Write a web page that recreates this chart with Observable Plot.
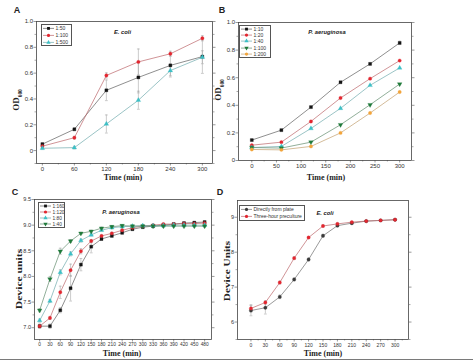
<!DOCTYPE html>
<html><head><meta charset="utf-8">
<script src="https://cdn.jsdelivr.net/npm/d3@7"></script>
<script src="https://cdn.jsdelivr.net/npm/@observablehq/plot@0.6"></script>
<style>
body{margin:0;background:#fff;}
#fig{position:relative;width:473px;height:362px;overflow:hidden;background:#fff;font-family:"Liberation Sans",Arial,sans-serif;}
#fig svg{position:absolute;}
.t{position:absolute;white-space:nowrap;line-height:1;color:#222;}
.leg{position:absolute;border:0.7px solid #555;background:#fff;color:#333;box-sizing:border-box;padding:0 1px;font-family:"Liberation Sans",Arial,sans-serif;}
.leg .row{display:flex;align-items:center;}
</style></head><body><div id="fig"></div>
<script>
// ---------- Panel A data (E. coli, OD600) ----------
const timeA = [0, 60, 120, 180, 240, 300];
const seriesA = ["1:50", "1:100", "1:500"];
const odA_50  = [0.05, 0.165, 0.467, 0.567, 0.66, 0.728];
const odA_100 = [0.034, 0.10, 0.582, 0.687, 0.75, 0.87];
const odA_500 = [0.018, 0.023, 0.206, 0.39, 0.62, 0.723];
const errA_50  = [0.01, 0.01, 0.08, 0.12, 0.08, 0.13];
const errA_100 = [0.01, 0.01, 0.02, 0.10, 0.02, 0.02];
const errA_500 = [0.01, 0.01, 0.07, 0.07, 0.05, 0.05];
const xTicksA = [0, 60, 120, 180, 240, 300];
const yTicksA = [0, 0.2, 0.4, 0.6, 0.8, 1.0];

// ---------- Panel B data (P. aeruginosa, OD600) ----------
const timeB = [0, 60, 120, 180, 240, 300];
const seriesB = ["1:10", "1:20", "1:40", "1:100", "1:200"];
const odB_10  = [0.148, 0.22, 0.387, 0.567, 0.70, 0.852];
const odB_20  = [0.111, 0.133, 0.283, 0.453, 0.593, 0.724];
const odB_40  = [0.094, 0.102, 0.232, 0.378, 0.545, 0.671];
const odB_100 = [0.094, 0.09, 0.133, 0.259, 0.404, 0.554];
const odB_200 = [0.08, 0.077, 0.102, 0.20, 0.344, 0.496];
const errB_10 = [0.005, 0.005, 0.005, 0.005, 0.008, 0.012];
const xTicksB = [0, 50, 100, 150, 200, 250, 300];
const yTicksB = [0, 0.2, 0.4, 0.6, 0.8, 1.0];

// ---------- Panel C data (P. aeruginosa, device units) ----------
const timeC = [0, 30, 60, 90, 120, 150, 180, 210, 240, 270, 300, 330, 360, 390, 420, 450, 480];
const seriesC = ["1:160", "1:120", "1:80", "1:40"];
const duC_160 = [7.03, 7.03, 7.34, 7.77, 8.23, 8.58, 8.73, 8.79, 8.85, 8.92, 8.96, 8.98, 9.00, 9.02, 9.04, 9.05, 9.06];
const duC_120 = [7.03, 7.19, 7.69, 8.12, 8.49, 8.69, 8.79, 8.84, 8.90, 8.95, 8.98, 9.00, 9.02, 9.02, 9.03, 9.03, 9.04];
const duC_80  = [7.14, 7.52, 8.08, 8.44, 8.70, 8.81, 8.90, 8.95, 8.97, 8.98, 8.99, 8.99, 8.99, 9.00, 9.00, 9.00, 9.00];
const duC_40  = [7.34, 7.95, 8.49, 8.69, 8.84, 8.88, 8.94, 8.97, 8.99, 8.98, 8.98, 8.98, 8.98, 8.98, 8.98, 8.98, 8.98];
const errC_160 = [0.03, 0.04, 0.05, 0.25, 0.12, 0.12, 0.03, 0.02, 0.02, 0.02, 0.02, 0.02, 0.02, 0.02, 0.02, 0.02, 0.02];
const errC_120 = [0.04, 0.03, 0.12, 0.12, 0.05, 0.03, 0.02, 0.02, 0.02, 0.02, 0.02, 0.02, 0.02, 0.02, 0.02, 0.02, 0.02];
const errC_80  = [0.03, 0.03, 0.05, 0.04, 0.03, 0.02, 0.02, 0.02, 0.02, 0.02, 0.02, 0.02, 0.02, 0.02, 0.02, 0.02, 0.02];
const errC_40  = [0.03, 0.05, 0.06, 0.03, 0.02, 0.02, 0.02, 0.02, 0.02, 0.02, 0.02, 0.02, 0.02, 0.02, 0.02, 0.02, 0.02];
const xTicksC = [0, 30, 60, 90, 120, 150, 180, 210, 240, 270, 300, 330, 360, 390, 420, 450, 480];
const yTicksC = [7.0, 7.5, 8.0, 8.5, 9.0, 9.5];

// ---------- Panel D data (E. coli, device units) ----------
const timeD = [0, 30, 60, 90, 120, 150, 180, 210, 240, 270, 300];
const seriesD = ["Directly from plate", "Three-hour preculture"];
const duD_plate = [6.33, 6.41, 6.72, 7.22, 7.79, 8.47, 8.76, 8.83, 8.89, 8.91, 8.93];
const duD_pre   = [6.39, 6.56, 7.13, 7.83, 8.42, 8.75, 8.81, 8.86, 8.89, 8.91, 8.93];
const errD_plate = [0.15, 0.18, 0.05, 0.04, 0.04, 0.04, 0.03, 0.03, 0.02, 0.02, 0.02];
const errD_pre   = [0.10, 0.05, 0.04, 0.04, 0.03, 0.03, 0.03, 0.02, 0.02, 0.02, 0.02];
const xTicksD = [0, 30, 60, 90, 120, 150, 180, 210, 240, 270, 300];
const yTicksD = [6, 7, 8, 9];

// ---------- styling ----------
const BLACK = "#141414", RED = "#e3262f", TEAL = "#3cc0c6", GREEN = "#1f7a3a", ORANGE = "#f2a43a", DGRAY = "#3a3a3a";
const sqrt3 = Math.sqrt(3);
const triDown = {draw(ctx, size) {
  const y = -Math.sqrt(size / (sqrt3 * 3));
  ctx.moveTo(0, -2 * y); ctx.lineTo(-sqrt3 * y, y); ctx.lineTo(sqrt3 * y, y); ctx.closePath();
}};
const cap = {draw(ctx, size) { const w = Math.sqrt(size) * 0.5; ctx.moveTo(-w, 0); ctx.lineTo(w, 0); }};
const symMap = {square: d3.symbolSquare, circle: d3.symbolCircle, triangle: d3.symbolTriangle, tridown: triDown};

function rows(times, names, vals, errs) {
  return names.flatMap((s, i) => times.map((t, j) => ({t, s, v: vals[i][j], e: errs[i] ? errs[i][j] : 0})));
}
const lineCol = c => d3.interpolateRgb(c, "#9a9a9a")(0.55);

const fig = document.getElementById("fig");

function panel(o) {
  const colorOf = Object.fromEntries(o.names.map((n, i) => [n, o.colors[i]]));
  const data = o.data;
  const withErr = data.filter(d => d.e > 0);
  const svg = Plot.plot({
    width: o.width, height: o.height,
    marginLeft: o.ml, marginRight: o.mr, marginTop: o.mt, marginBottom: o.mb,
    x: {domain: o.xDomain},
    y: {domain: o.yDomain},
    color: {type: "identity"},
    symbol: {domain: o.names, range: o.symbols.map(s => symMap[s])},
    style: {background: "transparent", fontFamily: "Liberation Sans, Arial, sans-serif", fontSize: "6px", color: "#333", overflow: "visible"},
    marks: [
      Plot.axisX(o.xTicks, {tickSize: 2.5, tickPadding: 1, fontSize: o.xFs, label: null, stroke: "#555", strokeWidth: 0.6}),
      Plot.axisX(o.xMinor, {tickSize: 1.5, tickFormat: () => "", label: null, stroke: "#555", strokeWidth: 0.5}),
      Plot.axisY(o.yTicks, {tickSize: 2.5, tickPadding: 1, fontSize: o.yFs, tickFormat: o.yFmt, label: null, stroke: "#555", strokeWidth: 0.6}),
      Plot.axisY(o.yMinor, {tickSize: 1.5, tickFormat: () => "", label: null, stroke: "#555", strokeWidth: 0.5}),
      Plot.axisY(o.yTicks, {anchor: "right", tickSize: 2.5, tickFormat: () => "", label: null, stroke: "#555", strokeWidth: 0.6}),
      Plot.axisY(o.yMinor, {anchor: "right", tickSize: 1.5, tickFormat: () => "", label: null, stroke: "#555", strokeWidth: 0.5}),
      Plot.ruleX(withErr, {x: "t", y1: d => d.v - d.e, y2: d => d.v + d.e, stroke: "#a8a8a8", strokeWidth: 0.6}),
      Plot.dot(withErr, {x: "t", y: d => d.v + d.e, symbol: cap, r: 1.6, stroke: "#a8a8a8", fill: "none", strokeWidth: 0.6}),
      Plot.dot(withErr, {x: "t", y: d => d.v - d.e, symbol: cap, r: 1.6, stroke: "#a8a8a8", fill: "none", strokeWidth: 0.6}),
      Plot.line(data, {x: "t", y: "v", z: "s", stroke: d => lineCol(colorOf[d.s]), strokeWidth: 0.7}),
      Plot.dot(data, {x: "t", y: "v", symbol: "s", r: o.r || 1.7, fill: d => colorOf[d.s], stroke: d => colorOf[d.s], strokeWidth: 0.3}),
      Plot.frame({stroke: "#444", strokeWidth: 0.8}),
      Plot.text([o.title], {frameAnchor: "top", dx: o.tdx, dy: o.tdy, text: d => d, fontWeight: "bold", fontStyle: "italic", fontSize: 5.8, fill: "#222"})
    ]
  });
  svg.style.left = o.left + "px";
  svg.style.top = o.top + "px";
  fig.appendChild(svg);

  // legend box
  const L = document.createElement("div");
  L.className = "leg";
  Object.assign(L.style, {left: o.leg.x + "px", top: o.leg.y + "px", width: o.leg.w + "px", fontSize: o.leg.fs + "px"});
  o.names.forEach((n, i) => {
    const row = document.createElement("div");
    row.className = "row";
    row.style.height = o.leg.rh + "px";
    const s = d3.create("svg").attr("width", 11).attr("height", o.leg.rh).style("position", "static").style("flex", "none");
    s.append("line").attr("x1", 0).attr("x2", 11).attr("y1", o.leg.rh / 2).attr("y2", o.leg.rh / 2)
      .attr("stroke", lineCol(o.colors[i])).attr("stroke-width", 0.7);
    s.append("path").attr("d", d3.symbol(symMap[o.symbols[i]], 8)()).attr("transform", `translate(5.5,${o.leg.rh / 2})`)
      .attr("fill", o.colors[i]);
    row.appendChild(s.node());
    const sp = document.createElement("span");
    sp.textContent = n;
    sp.style.marginLeft = "1.5px";
    row.appendChild(sp);
    L.appendChild(row);
  });
  fig.appendChild(L);
}

function label(html, x, y, o = {}) {
  const d = document.createElement("div");
  d.className = "t";
  d.innerHTML = html;
  Object.assign(d.style, {
    left: x + "px", top: y + "px", fontSize: (o.size || 8) + "px",
    fontFamily: o.family || '"Liberation Serif", "Times New Roman", serif',
    fontWeight: o.weight || "bold",
    transform: `translate(-50%,-50%)${o.rot ? " rotate(-90deg)" : ""}${o.stretch ? ` scaleX(${o.stretch})` : ""}`
  });
  fig.appendChild(d);
}

const fmt1 = d => d === 0 ? "0" : d.toFixed(1);

// Panel A
panel({
  left: 0, top: 0, width: 236, height: 180, ml: 36, mr: 24, mt: 21, mb: 17,
  xDomain: [-11, 319], yDomain: [-0.1, 1.0],
  xTicks: xTicksA, xMinor: [30, 90, 150, 210, 270], yTicks: yTicksA, yMinor: [-0.1, 0.1, 0.3, 0.5, 0.7, 0.9],
  yFmt: fmt1, xFs: 6, yFs: 6,
  names: seriesA, colors: [BLACK, RED, TEAL], symbols: ["square", "circle", "triangle"],
  data: rows(timeA, seriesA, [odA_50, odA_100, odA_500], [errA_50, errA_100, errA_500]),
  title: "E. coli", tdx: -2, tdy: 8,
  leg: {x: 41, y: 24, w: 31, rh: 6.8, fs: 5}
});

// Panel B
panel({
  left: 200, top: 0, width: 273, height: 180, ml: 38, mr: 62, mt: 22, mb: 20,
  xDomain: [-27, 324], yDomain: [0, 1.0],
  xTicks: xTicksB, xMinor: [25, 75, 125, 175, 225, 275], yTicks: yTicksB, yMinor: [0.1, 0.3, 0.5, 0.7, 0.9],
  yFmt: fmt1, xFs: 6, yFs: 6,
  names: seriesB, colors: [BLACK, RED, TEAL, GREEN, ORANGE], symbols: ["square", "circle", "triangle", "tridown", "circle"],
  data: rows(timeB, seriesB, [odB_10, odB_20, odB_40, odB_100, odB_200], [errB_10]),
  title: "P. aeruginosa", tdx: 2, tdy: 7,
  leg: {x: 239, y: 25, w: 32, rh: 6.2, fs: 5}
});

// Panel C
panel({
  left: 0, top: 180, width: 236, height: 182, ml: 34, mr: 25, mt: 19, mb: 23,
  xDomain: [-15, 500], yDomain: [6.77, 9.5],
  xTicks: xTicksC, xMinor: [], yTicks: yTicksC, yMinor: [7.25, 7.75, 8.25, 8.75, 9.25],
  yFmt: d => d.toFixed(1), xFs: 4.8, yFs: 5.5,
  names: seriesC, colors: [BLACK, RED, TEAL, GREEN], symbols: ["square", "circle", "triangle", "tridown"],
  data: rows(timeC, seriesC, [duC_160, duC_120, duC_80, duC_40], [errC_160, errC_120, errC_80, errC_40]),
  title: "P. aeruginosa", tdx: -2, tdy: 10,
  leg: {x: 38, y: 202, w: 27, rh: 6, fs: 4.8}
});

// Panel D
panel({
  left: 200, top: 180, width: 273, height: 182, ml: 37, mr: 65, mt: 20, mb: 23,
  xDomain: [-28, 328], yDomain: [5.5, 9.48],
  xTicks: xTicksD, xMinor: [15, 45, 75, 105, 135, 165, 195, 225, 255, 285, 315], yTicks: yTicksD, yMinor: [5.5, 6.5, 7.5, 8.5],
  yFmt: d => String(d), xFs: 5, yFs: 5.5,
  names: seriesD, colors: [DGRAY, RED], symbols: ["circle", "circle"],
  data: rows(timeD, seriesD, [duD_plate, duD_pre], [errD_plate, errD_pre]),
  title: "E. coli", tdx: 2, tdy: 10,
  leg: {x: 239, y: 205, w: 66, rh: 6.8, fs: 5}
});

// panel letters
const sans = '"Liberation Sans", Arial, sans-serif';
label("A", 17, 10, {size: 9, family: sans});
label("B", 222, 10, {size: 9, family: sans});
label("C", 15, 192, {size: 9, family: sans});
label("D", 220, 192, {size: 9, family: sans});

// axis titles
label("OD<sub style='font-size:60%'>600</sub>", 18, 100, {size: 9, rot: true});
label("OD<sub style='font-size:60%'>600</sub>", 220, 90, {size: 9, rot: true});
label("Time (min)", 123, 178, {size: 8});
label("Time (min)", 326, 178, {size: 8});
label("Time (min)", 122, 354, {size: 8});
label("Time (min)", 323, 354, {size: 8});
label("Device units", 20, 279, {size: 7.5, rot: true, stretch: 1.55});
label("Device Units", 227.5, 271, {size: 7.5, rot: true, stretch: 1.5});

// bottom rule of the figure
const rule = document.createElement("div");
Object.assign(rule.style, {position: "absolute", left: "0px", top: "358.5px", width: "473px", height: "1.5px", background: "#7a7a7a"});
fig.appendChild(rule);
</script></body></html>
